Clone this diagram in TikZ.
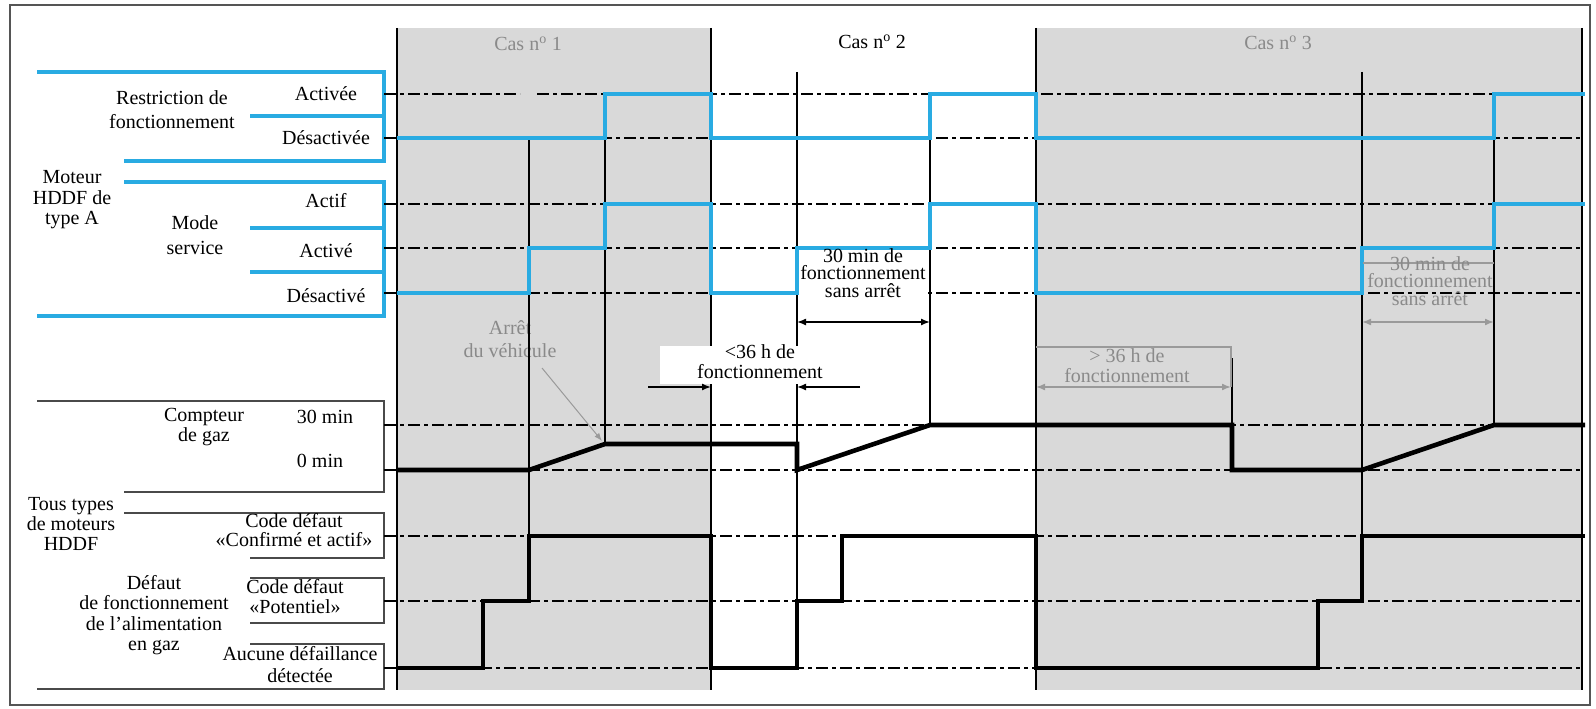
\documentclass[tikz,border=0pt]{standalone}
\usepackage{fontspec}
\setmainfont{Liberation Serif}
\usetikzlibrary{arrows.meta}
\definecolor{sigblue}{HTML}{29ABE2}
\definecolor{shadegray}{HTML}{D9D9D9}
\definecolor{annot}{HTML}{9A9A9A}
\definecolor{annottext}{HTML}{8A8A8A}
\definecolor{framegray}{HTML}{555555}
\definecolor{brackgray}{HTML}{4A4A4A}
\begin{document}
\begin{tikzpicture}[x=1pt,y=-1pt,
  lab/.style={font=\fontsize{20}{21}\selectfont, align=center, inner sep=0pt},
  bbr/.style={sigblue, line width=3.2pt},
  kbr/.style={brackgray, line width=2.8pt},
  refl/.style={black, line width=1.8pt, dash pattern=on 12pt off 4pt on 4pt off 4pt},
  thinv/.style={black, line width=1.4pt},
  bsig/.style={sigblue, line width=4.6pt, line join=miter},
  ksig/.style={black, line width=4.6pt, line join=miter},
  darr/.style={black, line width=1.4pt, {Latex[length=9pt,width=7pt]}-{Latex[length=9pt,width=7pt]}},
  sarr/.style={black, line width=1.4pt, -{Latex[length=9pt,width=7pt]}},
  garr/.style={annot, line width=1.6pt, {Latex[length=9pt,width=7pt]}-{Latex[length=9pt,width=7pt]}},
]
\useasboundingbox (0,0) rectangle (1596,709);
% shading
\fill[shadegray] (397,28) rectangle (711,690);
\fill[shadegray] (1036,28) rectangle (1582,690);
% frame
\draw[framegray, line width=2.2pt] (10,5) rectangle (1590,705);
% left brackets (blue)
\draw[bbr] (37,72) -- (384,72) -- (384,161) -- (124,161);
\draw[bbr] (250,116) -- (384,116);
\draw[bbr] (124,182) -- (384,182) -- (384,316) -- (37,316);
\draw[bbr] (250,228) -- (384,228);
\draw[bbr] (250,272) -- (384,272);
% left brackets (dark)
\draw[kbr] (37,401) -- (384,401) -- (384,492) -- (124,492);
\draw[kbr] (124,513) -- (384,513) -- (384,558) -- (250,558);
\draw[kbr] (250,578) -- (384,578) -- (384,623) -- (250,623);
\draw[kbr] (250,644) -- (384,644) -- (384,689) -- (37,689);
% reference dash-dot lines
\draw[refl] (384,94) -- (520,94);
\draw[refl] (537,94) -- (1582,94);
\foreach \yy in {138,204,248,293,425,470,536,601,668}{
  \draw[refl] (384,\yy) -- (1582,\yy);
}
% white box behind case-2 text
\fill[white] (799,253) rectangle (928,305);
% labels left
\node[lab, font=\fontsize{20}{24}\selectfont] (rf) at (172,110) {Restriction de\\fonctionnement};
\node[lab] (rfa) at (326,94) {Activée};
\node[lab] (rfd) at (326,138) {Désactivée};
\node[lab, font=\fontsize{20}{20.5}\selectfont] (mot) at (72,200) {Moteur\\HDDF de\\type A};
\node[lab, font=\fontsize{20}{25}\selectfont] (ms) at (195,235) {Mode\\service};
\node[lab] (msa) at (326,201) {Actif};
\node[lab] (msb) at (326,251) {Activé};
\node[lab] (msc) at (326,296) {Désactivé};
\node[lab, font=\fontsize{20}{20}\selectfont] (cg) at (204,427) {Compteur\\de gaz};
\node[lab] (c30) at (325,417) {30 min};
\node[lab] (c0) at (320,461) {0 min};
\node[lab, font=\fontsize{20}{20}\selectfont] (tt) at (71,524) {Tous types\\de moteurs\\HDDF};
\node[lab, font=\fontsize{20}{19.5}\selectfont] (cdc) at (294,530) {Code défaut\\«Confirmé et actif»};
\node[lab, font=\fontsize{20}{20.5}\selectfont] (def) at (154,615) {Défaut\\de fonctionnement\\de l’alimentation\\en gaz};
\node[lab, font=\fontsize{20}{20}\selectfont] (cdp) at (295,597) {Code défaut\\«Potentiel»};
\node[lab, font=\fontsize{20}{22}\selectfont] (auc) at (300,665) {Aucune défaillance\\détectée};
% case titles
\node[lab, text=annottext] (cas1) at (528,44) {Cas n\textsuperscript{o} 1};
\node[lab] (cas2) at (872,42) {Cas n\textsuperscript{o} 2};
\node[lab, text=annottext] (cas3) at (1278,43) {Cas n\textsuperscript{o} 3};
% Arret du vehicule
\node[lab, text=annottext, font=\fontsize{20}{23}\selectfont] (arret) at (510,339) {Arrêt\\du véhicule};
\coordinate (arrA) at (542,368);
\coordinate (arrB) at (602,441);
\draw[annot, line width=1pt, -{Latex[length=8pt,width=6pt]}] (arrA) -- (arrB);
% thin vertical lines
\draw[thinv] (397,28) -- (397,690);
\draw[thinv] (711,28) -- (711,690);
\draw[thinv] (1036,28) -- (1036,690);
\draw[black, line width=2.8pt] (1582,28) -- (1582,690);
\draw[thinv] (529,138) -- (529,536);
\draw[thinv] (605,94) -- (605,444);
\draw[thinv] (797,72) -- (797,668);
\draw[thinv] (930,138) -- (930,425);
\draw[thinv] (1232,358) -- (1232,425);
\draw[thinv] (1362,72) -- (1362,536);
\draw[thinv] (1494,138) -- (1494,425);
% blue signals
\draw[bsig] (397,138) -- (605,138) -- (605,94) -- (711,94) -- (711,138) -- (930,138) -- (930,94) -- (1036,94) -- (1036,138) -- (1494,138) -- (1494,94) -- (1585,94);
\draw[bsig] (397,293) -- (529,293) -- (529,248) -- (605,248) -- (605,204) -- (711,204) -- (711,293) -- (797,293) -- (797,248) -- (930,248) -- (930,204) -- (1036,204) -- (1036,293) -- (1362,293) -- (1362,248) -- (1494,248) -- (1494,204) -- (1585,204);
% black signals
\draw[ksig] (397,470) -- (529,470) -- (605,444) -- (797,444) -- (797,470) -- (930,425) -- (1232,425) -- (1232,470) -- (1362,470) -- (1494,425) -- (1585,425);
\draw[ksig] (397,668) -- (483,668) -- (483,601) -- (529,601) -- (529,536) -- (711,536) -- (711,668) -- (797,668) -- (797,601) -- (842,601) -- (842,536) -- (1036,536) -- (1036,668) -- (1318,668) -- (1318,601) -- (1362,601) -- (1362,536) -- (1585,536);
% case 2 annotations
\node[lab, font=\fontsize{20}{17.5}\selectfont] (t30) at (863,273) {30 min de\\fonctionnement\\sans arrêt};
\coordinate (a30L) at (797,322);
\coordinate (a30R) at (930,322);
\draw[darr] (a30L) -- (a30R);
\fill[white] (660,346) rectangle (850,384);
\node[lab, font=\fontsize{20}{20}\selectfont] (t36) at (760,362) {<36 h de\\fonctionnement};
\coordinate (b36L) at (648,387);
\coordinate (b36A) at (711,387);
\coordinate (b36R) at (860,387);
\coordinate (b36B) at (797,387);
\draw[sarr] (b36L) -- (b36A);
\draw[sarr] (b36R) -- (b36B);
% case 3 annotations (gray)
\coordinate (g36L) at (1036,347);
\coordinate (g36R) at (1231,347);
\coordinate (g36a) at (1036,387);
\coordinate (g36b) at (1231,387);
\draw[annot, line width=1.6pt] (g36L) -- (g36R) -- (g36b);
\draw[garr] (g36a) -- (g36b);
\node[lab, text=annottext, font=\fontsize{20}{20}\selectfont] (t36g) at (1127,366) {> 36 h de\\fonctionnement};
\coordinate (g30L) at (1363,263);
\coordinate (g30R) at (1494,263);
\draw[annot, line width=1.6pt] (g30L) -- (g30R);
\coordinate (g30a) at (1362,322);
\coordinate (g30b) at (1494,322);
\draw[garr] (g30a) -- (g30b);
\node[lab, text=annottext, font=\fontsize{20}{17.5}\selectfont] (t30g) at (1430,281) {30 min de\\fonctionnement\\sans arrêt};
\end{tikzpicture}
\end{document}
